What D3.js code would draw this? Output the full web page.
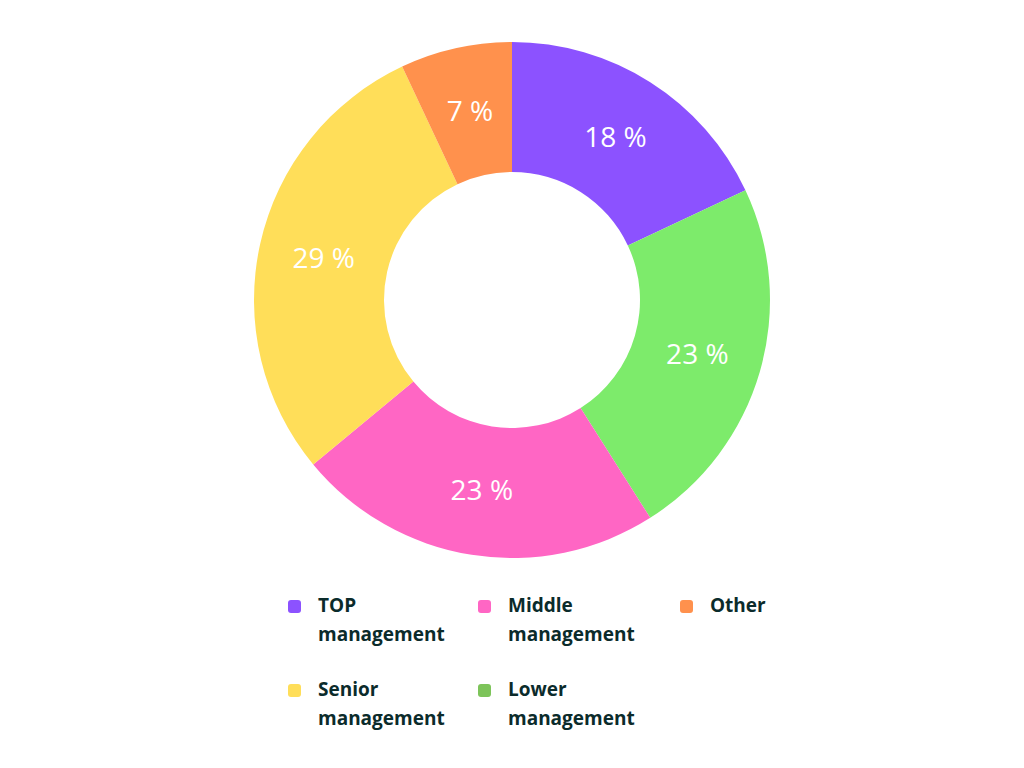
<!DOCTYPE html>
<html><head><meta charset="utf-8">
<script src="https://cdn.jsdelivr.net/npm/d3@7"></script>
<style>body{margin:0;background:#fff;}</style>
</head><body>
<script>
var categories = ['TOP management', 'Lower management', 'Middle management', 'Senior management', 'Other'];
var values = [18, 23, 23, 29, 7];
var colors = ['#8C52FF', '#7DEB6B', '#FF66C4', '#FFDE59', '#FF914D'];
var legendColors = ['#8C52FF', '#7DC45A', '#FF66C4', '#FFDE59', '#FF914D'];
var legendOrder = [0, 2, 4, 3, 1];

var svg = d3.select('body').append('svg').attr('width', 1024).attr('height', 768);
var g = svg.append('g').attr('transform', 'translate(512,300)');

var pie = d3.pie().sort(null).value(function(d) { return d; });
var arc = d3.arc().innerRadius(128).outerRadius(258);
var arcs = pie(values);

g.selectAll('path').data(arcs).enter().append('path')
  .attr('d', arc)
  .attr('fill', function(d, i) { return colors[i]; });

g.selectAll('text').data(arcs).enter().append('text')
  .attr('transform', function(d) { return 'translate(' + arc.centroid(d) + ')'; })
  .attr('text-anchor', 'middle')
  .attr('dy', '0.35em')
  .attr('fill', '#fff')
  .style('font', '28px "Open Sans", sans-serif')
  .text(function(d) { return d.data + ' %'; });

var cols = [288, 478, 680];
var rows = [600, 684];
legendOrder.forEach(function(idx, k) {
  var x = cols[k % 3], y = rows[Math.floor(k / 3)];
  var lg = svg.append('g').attr('transform', 'translate(' + x + ',' + y + ')');
  lg.append('rect').attr('width', 13).attr('height', 13).attr('rx', 3)
    .attr('fill', legendColors[idx]);
  var words = categories[idx].split(' ');
  var t = lg.append('text').attr('x', 30).attr('y', 12)
    .attr('fill', '#0B2B2B')
    .style('font', 'bold 19px "Open Sans", sans-serif');
  words.forEach(function(w, j) {
    t.append('tspan').attr('x', 30).attr('dy', j ? 29 : 0).text(w);
  });
});
</script>
</body></html>
